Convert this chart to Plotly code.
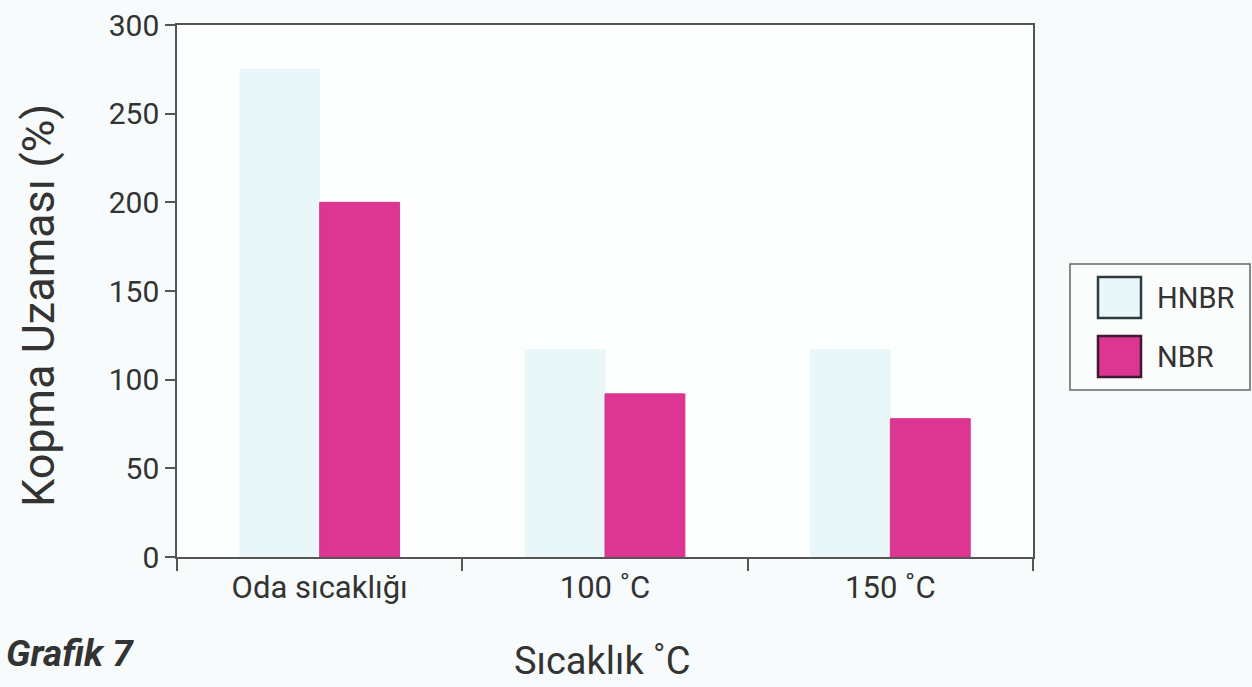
import plotly.graph_objects as go

categories = ["Oda sıcaklığı", "100 ˚C", "150 ˚C"]
hnbr = [275, 117, 117]
nbr = [200, 92, 78]
series_names = ["HNBR", "NBR"]
series_colors = ["#e9f7f9", "#dd3592"]
series_borders = ["#2e3c3e", "#3c1a30"]

font_family = "Roboto, Arial, sans-serif"
text_color = "#333"

W, H = 1252, 687
L, R, T, B = 177, 219, 25, 130
plot_w = W - L - R
plot_h = H - T - B


def px(x):
    """Pixel x -> paper fraction."""
    return (x - L) / plot_w


def py(y):
    """Pixel y (from top) -> paper fraction."""
    return (H - B - y) / plot_h


fig = go.Figure()
for name, vals, col in zip(series_names, [hnbr, nbr], series_colors):
    fig.add_trace(go.Bar(
        name=name, x=categories, y=vals, showlegend=False,
        marker=dict(color=col, line=dict(color=col, width=1)),
    ))

shapes = []
annotations = []

# Legend panel drawn by hand so the swatches can be large framed squares
shapes.append(dict(type="rect", xref="paper", yref="paper",
                   x0=px(1070), x1=px(1250), y0=py(390), y1=py(264),
                   line=dict(color="#666", width=1.5), fillcolor="#fbfdfd"))
for i, (name, col, bcol) in enumerate(zip(series_names, series_colors, series_borders)):
    top = 277 + i * 59
    shapes.append(dict(type="rect", xref="paper", yref="paper",
                       x0=px(1098), x1=px(1141), y0=py(top + 41), y1=py(top),
                       line=dict(color=bcol, width=2.5), fillcolor=col))
    annotations.append(dict(text=name, xref="paper", yref="paper",
                            x=px(1155), y=py(top + 21), xanchor="left", yanchor="middle",
                            showarrow=False,
                            font=dict(size=29, family=font_family, color=text_color)))

# Axis titles and caption
annotations.append(dict(text="Kopma Uzaması (%)", xref="paper", yref="paper",
                        x=px(38), y=py(306), textangle=-90, showarrow=False,
                        xanchor="center", yanchor="middle",
                        font=dict(size=45, family=font_family, color=text_color)))
annotations.append(dict(text="Sıcaklık ˚C", xref="paper", yref="paper",
                        x=px(602), y=py(661), showarrow=False,
                        xanchor="center", yanchor="middle",
                        font=dict(size=38, family=font_family, color=text_color)))
annotations.append(dict(text="<b><i>Grafik 7</i></b>", xref="paper", yref="paper",
                        x=px(4), y=py(653), showarrow=False,
                        xanchor="left", yanchor="middle",
                        font=dict(size=37, family=font_family, color=text_color)))

fig.update_layout(
    width=W, height=H,
    barmode="group", bargap=0.44, bargroupgap=0.0,
    paper_bgcolor="#f8fbfc", plot_bgcolor="#fdfefe",
    margin=dict(l=L, r=R, t=T, b=B, autoexpand=False),
    font=dict(family=font_family, color=text_color),
    showlegend=False,
    shapes=shapes,
    annotations=annotations,
)

fig.update_yaxes(
    range=[0, 300], tickvals=[0, 50, 100, 150, 200, 250, 300],
    automargin=False,
    showgrid=False, zeroline=False,
    showline=True, linecolor="#555", linewidth=1.5, mirror=True,
    ticks="outside", ticklen=10, tickcolor="#555", tickwidth=1.5,
    tickfont=dict(size=30, family=font_family, color=text_color),
)
fig.update_xaxes(
    automargin=False,
    showgrid=False, tickson="boundaries",
    showline=True, linecolor="#555", linewidth=1.5, mirror=True,
    ticks="outside", ticklen=12, tickcolor="#555", tickwidth=1.5,
    ticklabelstandoff=2,
    tickfont=dict(size=31, family=font_family, color=text_color),
)

fig.write_html("out.html")
